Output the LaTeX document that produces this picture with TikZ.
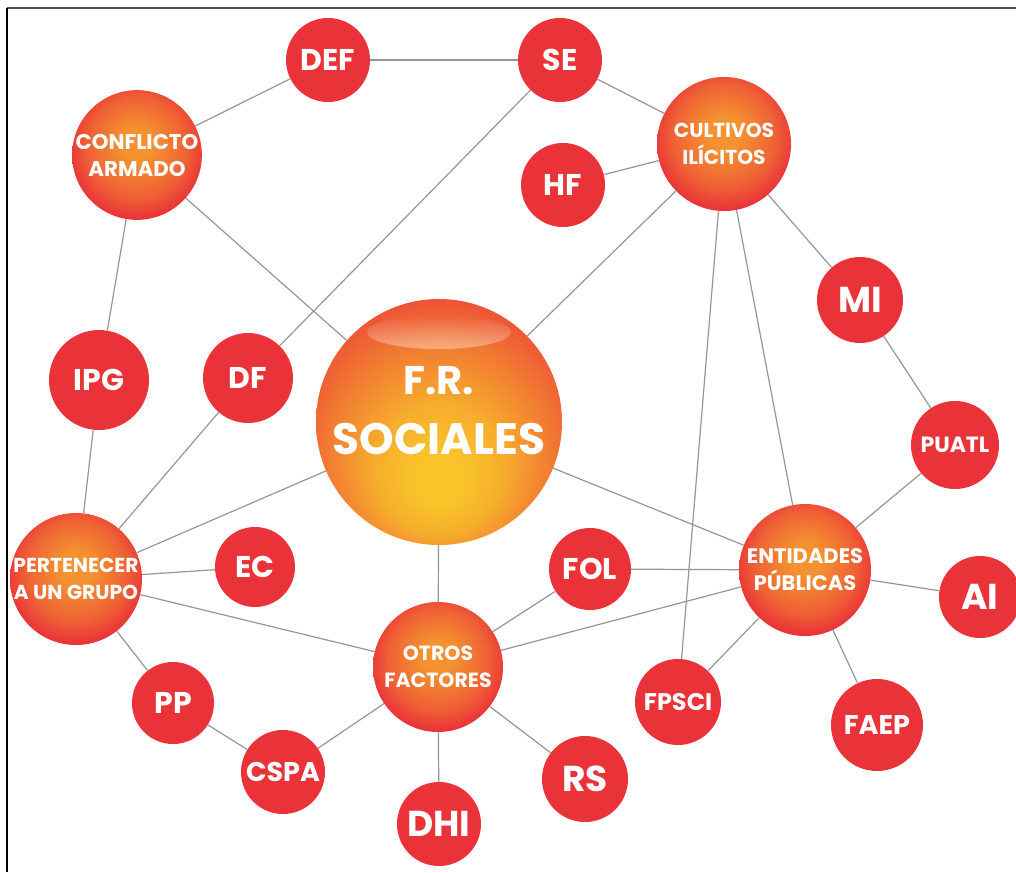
\documentclass[tikz,border=0pt]{standalone}
\usepackage{fontspec}
\newfontfamily\pfont{Poppins}
\usetikzlibrary{fadings}
\definecolor{nred}{RGB}{234,50,57}
\definecolor{norange}{RGB}{244,146,48}
\definecolor{nyellow}{RGB}{248,196,42}
\definecolor{lgray}{RGB}{150,150,150}
\pgfdeclareradialshading{orb}{\pgfpoint{0bp}{5bp}}{color(0bp)=(norange); color(6bp)=(norange); color(19bp)=(norange!50!nred); color(27bp)=(nred); color(50bp)=(nred)}
\pgfdeclareradialshading{core}{\pgfpoint{0bp}{-13bp}}{color(0bp)=(nyellow); color(5bp)=(nyellow); color(13bp)=(nyellow!55!norange); color(22bp)=(norange!80!nred); color(30bp)=(norange!35!nred); color(38bp)=(nred); color(50bp)=(nred)}
\tikzset{
  leaf/.style={circle, fill=nred, inner sep=0pt, text=white, font=\pfont\bfseries\fontsize{30}{30}\selectfont},
  hub/.style={circle, shading=orb, inner sep=0pt, text=white, align=center, font=\pfont\bfseries\fontsize{20.5}{27}\selectfont},
  link/.style={draw=lgray, line width=1.2pt},
  smalltxt/.style={font=\pfont\bfseries\fontsize{24}{24}\selectfont},
  bigtxt/.style={font=\pfont\bfseries\fontsize{36}{36}\selectfont}
}
\begin{document}
\begin{tikzpicture}[x=1pt,y=-1pt]
\useasboundingbox (0,0) rectangle (1016,872);
\fill[white] (0,0) rectangle (1016,872);
% frame
\draw[line width=2pt, black!70] (7,8.5) -- (1016,8.5);
\draw[line width=1.6pt, black] (7,8) -- (7,872);

% central node
\node[circle, shading=core, inner sep=0pt, minimum size=246pt] (frs) at (439,422) {};
\fill[white, path fading=north, fill opacity=0.38] ([yshift=90pt]frs.center) ellipse [x radius=72pt, y radius=17pt];
\node[text=white, align=center, inner sep=0pt, font=\pfont\bfseries\fontsize{44}{60}\selectfont] (frst) at ([yshift=11pt]frs.center) {{\fontsize{40}{60}\selectfont F.R.}\\SOCIALES};

% hubs
\node[hub, minimum size=128pt, font=\pfont\bfseries\fontsize{21.3}{27}\selectfont] (ca) at (137,155) {CONFLICTO\\ARMADO};
\node[hub, minimum size=134pt, font=\pfont\bfseries\fontsize{20.2}{27}\selectfont] (ci) at (724,144) {CULTIVOS\\ILÍCITOS};
\node[hub, minimum size=132pt, font=\pfont\bfseries\fontsize{20.2}{27}\selectfont] (pg) at (76,579) {PERTENECER\\A UN GRUPO};
\node[hub, minimum size=132pt, font=\pfont\bfseries\fontsize{21}{27}\selectfont] (ep) at (805,570) {ENTIDADES\\PÚBLICAS};
\node[hub, minimum size=130pt] (of) at (438,667) {OTROS\\FACTORES};

% leaves
\node[leaf, minimum size=84pt] (def) at (328,60) {DEF};
\node[leaf, minimum size=84pt] (se) at (560,60) {SE};
\node[leaf, minimum size=84pt] (hf) at (563,185) {HF};
\node[leaf, minimum size=86pt, bigtxt] (mi) at (860,300) {MI};
\node[leaf, minimum size=100pt] (ipg) at (99,380) {IPG};
\node[leaf, minimum size=90pt] (df) at (248,378) {DF};
\node[leaf, minimum size=88pt, font=\pfont\bfseries\fontsize{22}{22}\selectfont] (pu) at (955,445) {PUATL};
\node[leaf, minimum size=80pt] (ec) at (255,567) {EC};
\node[leaf, minimum size=82pt] (fol) at (590,569) {FOL};
\node[leaf, minimum size=82pt, bigtxt] (ai) at (980,597) {AI};
\node[leaf, minimum size=86pt, smalltxt] (fp) at (678,702) {FPSCI};
\node[leaf, minimum size=92pt, font=\pfont\bfseries\fontsize{27}{27}\selectfont] (fa) at (877,725) {FAEP};
\node[leaf, minimum size=82pt] (pp) at (173,703) {PP};
\node[leaf, minimum size=84pt, font=\pfont\bfseries\fontsize{27}{27}\selectfont] (cs) at (283,772) {CSPA};
\node[leaf, minimum size=84pt, bigtxt] (dhi) at (439,824) {DHI};
\node[leaf, minimum size=86pt, bigtxt] (rs) at (585,779) {RS};

% connectors
\draw[link] (def) -- (se);
\draw[link] (def) -- (ca);
\draw[link] (se) -- (ci);
\draw[link] (se) -- (df);
\draw[link] (hf) -- (ci);
\draw[link] (ci) -- (frs);
\draw[link] (ci) -- (mi);
\draw[link] (ci) -- (fp);
\draw[link] (ci) -- (ep);
\draw[link] (mi) -- (pu);
\draw[link] (pu) -- (ep);
\draw[link] (ca) -- (frs);
\draw[link] (ca) -- (ipg);
\draw[link] (ipg) -- (pg);
\draw[link] (df) -- (pg);
\draw[link] (frs) -- (pg);
\draw[link] (frs) -- (of);
\draw[link] (frs) -- (ep);
\draw[link] (pg) -- (ec);
\draw[link] (pg) -- (of);
\draw[link] (pg) -- (pp);
\draw[link] (pp) -- (cs);
\draw[link] (cs) -- (of);
\draw[link] (of) -- (dhi);
\draw[link] (of) -- (rs);
\draw[link] (of) -- (fol);
\draw[link] (of) -- (ep);
\draw[link] (fol) -- (ep);
\draw[link] (ep) -- (ai);
\draw[link] (ep) -- (fp);
\draw[link] (ep) -- (fa);
\end{tikzpicture}
\end{document}
